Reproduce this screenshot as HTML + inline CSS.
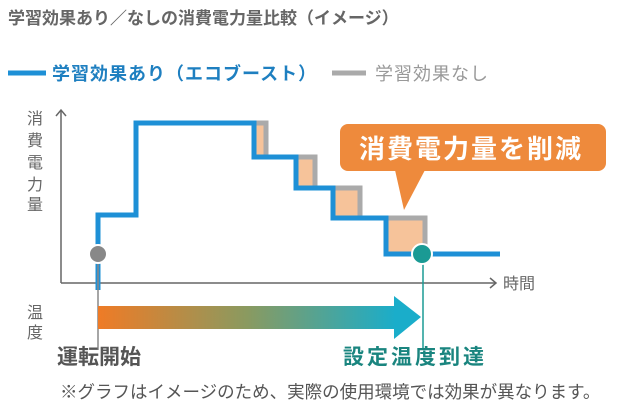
<!DOCTYPE html>
<html><head><meta charset="utf-8"><style>
body{margin:0;width:619px;height:420px;background:#fff;overflow:hidden;font-family:"Liberation Sans","Noto Sans CJK JP",sans-serif}
</style></head><body>
<svg width="619" height="420" xmlns="http://www.w3.org/2000/svg" style="position:absolute;left:0;top:0" font-family="Liberation Sans, Noto Sans CJK JP, sans-serif">
<defs><linearGradient id="g" x1="0" x2="1"><stop offset="0" stop-color="#ef7b26"/><stop offset="0.5" stop-color="#8a9a60"/><stop offset="1" stop-color="#1aadca"/></linearGradient></defs>
<text x="8" y="24" font-size="17" font-weight="bold" fill="#666">学習効果あり／なしの消費電力量比較（イメージ）</text>
<line x1="8" y1="73" x2="46" y2="73" stroke="#1e90d6" stroke-width="5"/>
<text x="52" y="80" font-size="18" font-weight="bold" fill="#1e7fc0" letter-spacing="1">学習効果あり（エコブースト）</text>
<line x1="332" y1="73" x2="366" y2="73" stroke="#aaa" stroke-width="5"/>
<text x="375" y="80" font-size="18" fill="#999" letter-spacing="1">学習効果なし</text>
<g font-size="16" fill="#666"><text x="27" y="124">消</text><text x="27" y="146">費</text><text x="27" y="168">電</text><text x="27" y="190">力</text><text x="27" y="210">量</text>
<text x="27" y="318">温</text><text x="27" y="338">度</text><text x="503" y="289">時間</text></g>
<g stroke="#666" stroke-width="1.5" fill="none"><line x1="61" y1="110" x2="61" y2="283"/><polyline points="56,116 61,110 66,116"/><line x1="61" y1="283" x2="496" y2="283"/><polyline points="490,278 496,283 490,288"/></g>
<g fill="#f6c39a"><rect x="254" y="123" width="12" height="34"/><rect x="296" y="157" width="19" height="31"/><rect x="333" y="188" width="27" height="30"/><rect x="386" y="218" width="39" height="36"/></g>
<polyline points="254,123 266,123 266,157 315,157 315,188 360,188 360,218 425,218 425,254" fill="none" stroke="#aaa" stroke-width="5"/>
<polyline points="98,290 98,215 136,215 136,123 254,123 254,157 296,157 296,188 333,188 333,218 386,218 386,254 500,254" fill="none" stroke="#1e90d6" stroke-width="5"/>
<line x1="98" y1="254" x2="98" y2="350" stroke="#888" stroke-width="1.5"/>
<line x1="423" y1="254" x2="423" y2="350" stroke="#1a9a94" stroke-width="1.5"/>
<circle cx="98" cy="254" r="9" fill="#888" stroke="#fff" stroke-width="2"/>
<circle cx="422" cy="254" r="10" fill="#1a9a94" stroke="#fff" stroke-width="2"/>
<rect x="340" y="124" width="266" height="47" rx="8" fill="#ee8a3c"/>
<polygon points="395,170 425,170 404,210" fill="#ee8a3c"/>
<text x="471" y="158" font-size="26" font-weight="bold" fill="#fff" text-anchor="middle" letter-spacing="2">消費電力量を削減</text>
<rect x="98" y="306" width="298" height="23" fill="url(#g)"/>
<polygon points="394,296 421,317 394,339" fill="#1aadca"/>
<text x="57" y="364" font-size="21" font-weight="bold" fill="#555">運転開始</text>
<text x="343" y="364" font-size="21" font-weight="bold" fill="#1a857f" letter-spacing="3">設定温度到達</text>
<text x="60" y="398" font-size="17.5" fill="#555">※グラフはイメージのため、実際の使用環境では効果が異なります。</text>
</svg>
</body></html>
